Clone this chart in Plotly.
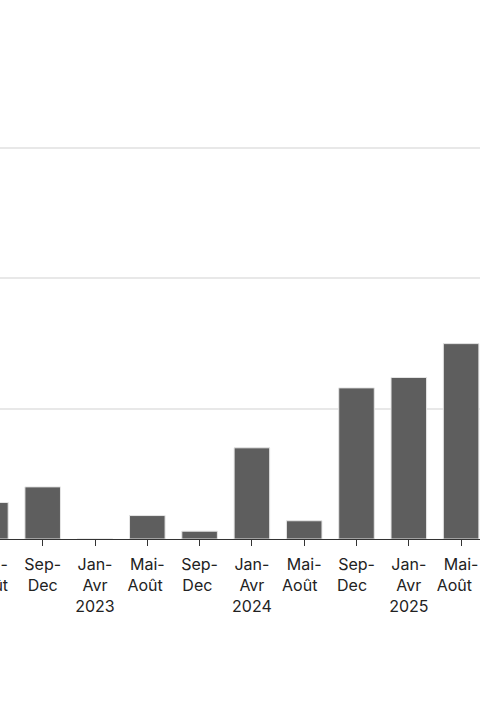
import plotly.graph_objects as go

# bimestrial periods (only the visible part of the chart)
periods = ["Mai-<br>Août", "Sep-<br>Dec", "Jan-<br>Avr<br>2023", "Mai-<br>Août ", "Sep-<br>Dec ",
           "Jan-<br>Avr<br>2024", "Mai-<br>Août  ", "Sep-<br>Dec  ", "Jan-<br>Avr<br>2025", "Mai-<br>Août   "]
counts = [14, 20, 0, 9, 3, 35, 7, 58, 62, 75]

SHIFT = 60      # px of the figure hidden to the left of the window
FIG_W = 580     # wider than the 480 window, the rest overflows on the right
STEP = 52.3     # px per category

fig = go.Figure(go.Bar(
    x=periods, y=counts,
    marker=dict(color="#5e5e5e", line=dict(color="#e6e6e6", width=1)),
    width=0.68,
))

r0 = -(SHIFT - 9.6) / STEP
fig.update_layout(
    width=FIG_W, height=720,
    margin=dict(l=0, r=0, t=44, b=181),
    plot_bgcolor="white", paper_bgcolor="white",
    font=dict(family="Inter", size=16, color="#222222"),
    showlegend=False,
)
fig.update_xaxes(
    range=[r0, r0 + FIG_W / STEP],
    showline=True, linecolor="#333333", linewidth=1,
    ticks="outside", ticklen=6, tickcolor="#333333",
    ticklabelstandoff=5,
    showgrid=False,
)
fig.update_yaxes(
    range=[0, 190], dtick=50,
    showgrid=True, gridcolor="#e8e8e8", gridwidth=2,
    showticklabels=False, zeroline=False,
)

js = ("var gd = document.getElementById('{plot_id}');"
      "document.body.style.margin = '0';"
      "document.body.style.overflow = 'hidden';"
      "gd.style.marginLeft = '-%dpx';" % SHIFT)
fig.write_html("out.html", post_script=js, config={"displayModeBar": False})
